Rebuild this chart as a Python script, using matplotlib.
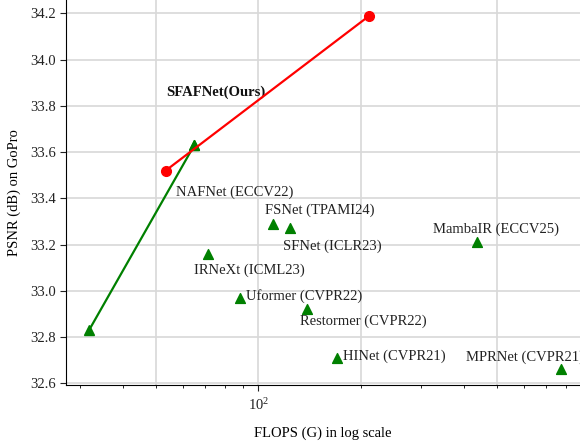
import matplotlib
matplotlib.use("Agg")
import matplotlib.pyplot as plt

plt.rcParams['font.family'] = ['Liberation Serif', 'DejaVu Serif']
plt.rcParams['mathtext.fontset'] = 'stix'
plt.rcParams['font.size'] = 10.5

# our two models (red line)
ours_flops = [53.5, 211.7]
ours_psnr = [33.52, 34.19]
ours_label = "SFAFNet(Ours)"

# NAFNet pair (green line)
naf_flops = [31.9, 64.9]
naf_psnr = [32.83, 33.63]

# other methods
names = ["NAFNet (ECCV22)", "FSNet (TPAMI24)", "SFNet (ICLR23)", "IRNeXt (ICML23)",
         "Uformer (CVPR22)", "Restormer (CVPR22)", "HINet (CVPR21)",
         "MambaIR (ECCV25)", "MPRNet (CVPR21)"]
flops = [64.9, 110.4, 124.1, 71.2, 88.6, 139.3, 169.8, 439.0, 771.0]
psnr = [33.63, 33.29, 33.27, 33.16, 32.97, 32.92, 32.71, 33.21, 32.66]
# label offsets in pixels from each point
offsets = [(-18, -47), (-8, 14), (-7, -18), (-14, -16), (6, 2), (-7, -12),
           (6, 2), (-44, 13), (-95, 12)]

fig = plt.figure(figsize=(5.8, 4.44), dpi=100)
ax = fig.add_axes([66/580, 1 - 384.5/444, 1 - 66/580, 384.5/444])

ax.plot(naf_flops, naf_psnr, color='green', lw=1.6, marker='^', ms=7, zorder=3)
ax.plot(ours_flops, ours_psnr, color='red', lw=1.6, marker='o', ms=7, zorder=4)
ax.scatter(flops, psnr, color='green', marker='^', s=50, zorder=3)

for n, x, y, off in zip(names, flops, psnr, offsets):
    ax.annotate(n, (x, y), xytext=off, textcoords='offset pixels',
                ha='left', va='center', fontsize=10.5, color='#222222')
ax.annotate(ours_label, (ours_flops[0], ours_psnr[0]), xytext=(1, 78),
            textcoords='offset pixels', ha='left', va='center',
            fontsize=10.5, fontweight='bold', color='#111111')

ax.set_xscale('log')
ax.set_xlim(27.3, 878)
ax.set_ylim(32.595, 34.258)
ax.set_yticks([32.6, 32.8, 33.0, 33.2, 33.4, 33.6, 33.8, 34.0, 34.2])
ax.grid(True, which='major', color='#d8d8d8', lw=1.2)
for g in [50, 200, 500]:
    ax.axvline(g, color='#d8d8d8', lw=1.2, zorder=0)
ax.set_axisbelow(True)

for s in ['top', 'right']:
    ax.spines[s].set_visible(False)
ax.tick_params(which='major', length=4, direction='out', colors='#222222')
ax.tick_params(axis='x', which='major', pad=5)
ax.tick_params(which='minor', length=2.5, direction='out')

ax.set_xlabel("FLOPS (G) in log scale", labelpad=10)
ax.set_ylabel("PSNR (dB) on GoPro", labelpad=6)

fig.savefig("out.png", dpi=100)
